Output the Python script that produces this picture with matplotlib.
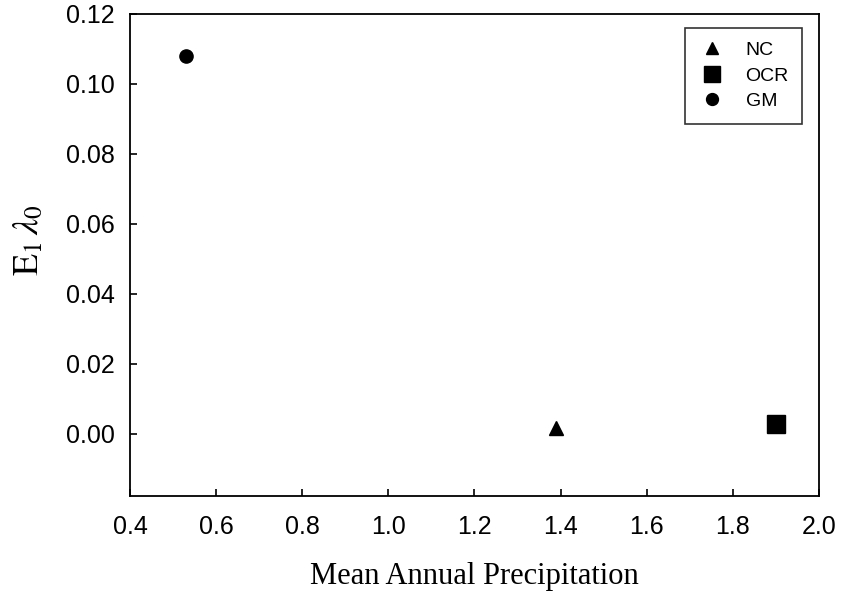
import matplotlib
matplotlib.use("Agg")
import matplotlib.pyplot as plt

# data
series = ["NC", "OCR", "GM"]
precip = [1.39, 1.90, 0.53]
e1_lambda0 = [0.0015, 0.0027, 0.108]
markers = ["^", "s", "o"]
sizes = [9.5, 13, 9.5]

plt.rcParams['font.family'] = ['Liberation Sans', 'DejaVu Sans']
plt.rcParams['mathtext.fontset'] = 'stix'

fig = plt.figure(figsize=(8.41, 5.92), dpi=100)
ax = fig.add_axes([0.1546, 0.1622, 0.8192, 0.8142])

for name, x, y, m, s in zip(series, precip, e1_lambda0, markers, sizes):
    ax.plot(x, y, linestyle='none', marker=m, markersize=s, color='black', label=name)

ax.set_xlim(0.4, 2.0)
ax.set_ylim(-0.0178, 0.12)
ax.set_xticks([0.4, 0.6, 0.8, 1.0, 1.2, 1.4, 1.6, 1.8, 2.0])
ax.set_yticks([0.00, 0.02, 0.04, 0.06, 0.08, 0.10, 0.12])
ax.xaxis.set_major_formatter(matplotlib.ticker.FormatStrFormatter('%.1f'))
ax.yaxis.set_major_formatter(matplotlib.ticker.FormatStrFormatter('%.2f'))
ax.tick_params(direction='in', length=5, width=1.2, labelsize=18, pad=11,
               top=False, right=False)
ax.tick_params(axis='x', pad=13.5)
for sp in ax.spines.values():
    sp.set_linewidth(1.3)

ax.set_xlabel('Mean Annual Precipitation', fontsize=22, family='Liberation Serif', labelpad=17)
ax.set_ylabel(r'$\mathrm{E}_1\,\lambda_0$', fontsize=26)
ax.yaxis.set_label_coords(-0.122, 0.53)

leg = ax.legend(loc='upper right', bbox_to_anchor=(0.9845, 0.983), fontsize=14,
                frameon=True, fancybox=False, edgecolor='black', borderpad=0.7,
                labelspacing=0.4, handlelength=1.3, handletextpad=1.1,
                borderaxespad=0.3, markerscale=0.9)
leg.get_frame().set_linewidth(1.2)

fig.savefig('out.png', dpi=100)
